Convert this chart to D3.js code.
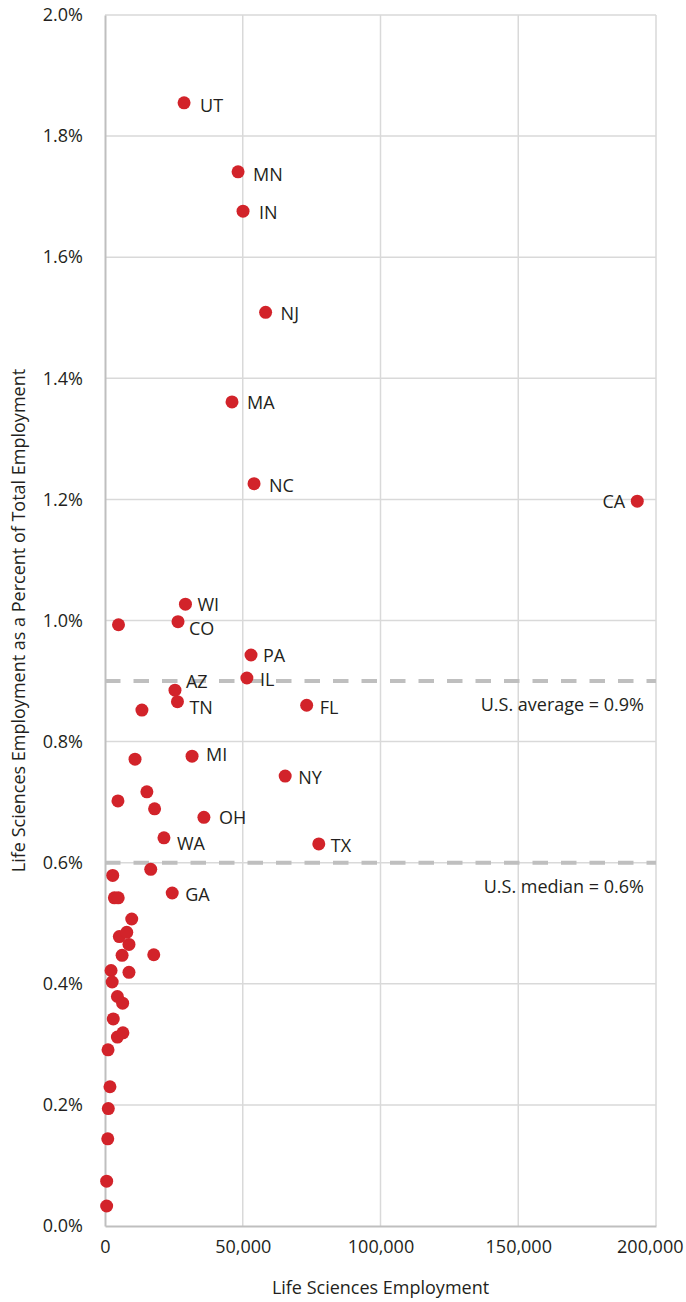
<!DOCTYPE html>
<html>
<head>
<meta charset="utf-8">
<script src="https://cdn.jsdelivr.net/npm/d3@7"></script>
<style>
  html, body { margin: 0; padding: 0; background: #fff; }
  svg text { font-family: "Open Sans", "DejaVu Sans", sans-serif; fill: #231f20; }
</style>
</head>
<body>
<svg id="chart" width="686" height="1302"></svg>
<script>
// ---- data ----
const states = ["UT","MN","IN","NJ","MA","NC","CA","WI","CO","","PA","IL","AZ","TN","FL","","","MI","NY","","","","OH","WA","TX","","GA",
  "","","","","","","","","","","","","","","","","","","","","","",""];
const employment = [28700,48300,50100,58300,46100,54100,193200,29200,26500,4900,53000,51500,25400,26300,73200,13400,10900,31600,65400,4700,15200,18000,35900,21400,77600,16600,24400,
  2800,3400,4800,9700,5200,7900,8700,6200,17700,2200,8700,2600,4500,6400,3000,4500,6500,1100,1800,1200,1000,600,600];
const sharePct = [1.855,1.741,1.676,1.509,1.361,1.226,1.197,1.027,0.998,0.993,0.943,0.905,0.885,0.866,0.860,0.852,0.771,0.776,0.743,0.702,0.717,0.689,0.675,0.641,0.631,0.589,0.550,
  0.579,0.542,0.542,0.507,0.478,0.485,0.465,0.447,0.448,0.422,0.419,0.403,0.379,0.368,0.342,0.312,0.319,0.291,0.230,0.194,0.144,0.074,0.033];
const xTicks = [0, 50000, 100000, 150000, 200000];
const yTicks = [0, 0.2, 0.4, 0.6, 0.8, 1.0, 1.2, 1.4, 1.6, 1.8, 2.0];
const refLines = [{value: 0.9, label: "U.S. average = 0.9%"}, {value: 0.6, label: "U.S. median = 0.6%"}];
const xTitle = "Life Sciences Employment";
const yTitle = "Life Sciences Employment as a Percent of Total Employment";

// label placement tweaks (offset from the dot, in px)
const labelOffset = {
  UT:[16,2], MN:[15,2], IN:[16,1], NJ:[15,1], MA:[15,0], NC:[15,1], CA:[-12,0], WI:[12,0], CO:[11,6],
  PA:[12,0], IL:[13,1], AZ:[11,-9], TN:[12,5], FL:[13,2], MI:[14,-2], NY:[13,1], OH:[15,0], WA:[13,5], TX:[12,1], GA:[13,1]
};

// ---- layout ----
const W = 686, H = 1302;
const m = {left: 105, right: 30, top: 15, bottom: 76};
const svg = d3.select("#chart");
const x = d3.scaleLinear().domain([0, 200000]).range([m.left, W - m.right]);
const y = d3.scaleLinear().domain([0, 2.0]).range([H - m.bottom, m.top]);

const data = states.map((s, i) => ({state: s, emp: employment[i], pct: sharePct[i]}));

// gridlines
svg.append("g").selectAll("line").data(yTicks.filter(d => d > 0)).join("line")
  .attr("x1", x(0)).attr("x2", x(200000))
  .attr("y1", d => y(d)).attr("y2", d => y(d))
  .attr("stroke", "#d9d9d9").attr("stroke-width", 1.5);
svg.append("g").selectAll("line").data(xTicks.filter(d => d > 0)).join("line")
  .attr("x1", d => x(d)).attr("x2", d => x(d))
  .attr("y1", y(0)).attr("y2", y(2.0))
  .attr("stroke", "#d9d9d9").attr("stroke-width", 1.5);

// axes
const xAxis = svg.append("g").attr("transform", `translate(0,${y(0)})`)
  .call(d3.axisBottom(x).tickValues(xTicks).tickSize(0).tickPadding(14).tickFormat(d3.format(",")));
const yAxis = svg.append("g").attr("transform", `translate(${x(0)},0)`)
  .call(d3.axisLeft(y).tickValues(yTicks).tickSize(0).tickPadding(22).tickFormat(d => d.toFixed(1) + "%"));
[xAxis, yAxis].forEach(g => {
  g.select(".domain").attr("stroke", "#bfbfbf").attr("stroke-width", 2);
  g.selectAll("text").attr("font-size", 18).attr("font-family", "Open Sans").attr("fill", "#231f20");
});
// keep the last x tick label inside the page
xAxis.selectAll(".tick").filter(d => d === 200000).select("text")
  .attr("text-anchor", "end").attr("x", (W - 3) - x(200000));

// reference lines
const ref = svg.append("g");
ref.selectAll("line").data(refLines).join("line")
  .attr("x1", x(0)).attr("x2", x(200000))
  .attr("y1", d => y(d.value)).attr("y2", d => y(d.value))
  .attr("stroke", "#bfbfbf").attr("stroke-width", 4).attr("stroke-dasharray", "15.5,13");
ref.selectAll("text").data(refLines).join("text")
  .attr("x", x(200000) - 12).attr("y", d => y(d.value) + 23)
  .attr("text-anchor", "end").attr("dominant-baseline", "central")
  .attr("font-size", 18).text(d => d.label);

// points
svg.append("g").selectAll("circle").data(data).join("circle")
  .attr("cx", d => x(d.emp)).attr("cy", d => y(d.pct))
  .attr("r", 6.5).attr("fill", "#d2232a");

// point labels
svg.append("g").selectAll("text").data(data.filter(d => d.state)).join("text")
  .attr("x", d => x(d.emp) + labelOffset[d.state][0])
  .attr("y", d => y(d.pct) + labelOffset[d.state][1])
  .attr("text-anchor", d => labelOffset[d.state][0] < 0 ? "end" : "start")
  .attr("dominant-baseline", "central")
  .attr("font-size", 18).text(d => d.state);

// titles
svg.append("text").attr("x", (x(0) + x(200000)) / 2).attr("y", 1287)
  .attr("text-anchor", "middle").attr("dominant-baseline", "central")
  .attr("font-size", 18).text(xTitle);
svg.append("text")
  .attr("transform", `translate(18,${(y(0) + y(2.0)) / 2}) rotate(-90)`)
  .attr("text-anchor", "middle").attr("dominant-baseline", "central")
  .attr("font-size", 18).text(yTitle);
</script>
</body>
</html>
